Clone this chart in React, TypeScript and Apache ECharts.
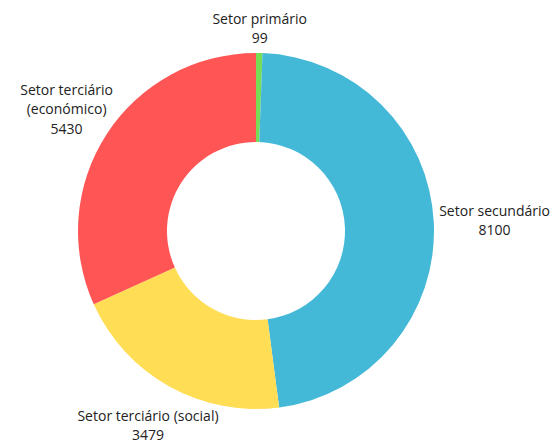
import React, { useEffect, useRef } from "react";
import * as echarts from "echarts";

const categories = [
  "Setor primário",
  "Setor secundário",
  "Setor terciário (social)",
  "Setor terciário\n(económico)",
];
const values = [99, 8100, 3479, 5430];
const colors = ["#77DD55", "#44B8D7", "#FFDD55", "#FF5555"];

const CX = 256;
const CY = 231;
const R_OUT = 178;
const R_IN = 89;
const GAP = 5.5;

export default function App() {
  const ref = useRef<HTMLDivElement>(null);
  useEffect(() => {
    if (!ref.current) return;
    const chart = echarts.init(ref.current, null, { renderer: "svg" });
    const total = values.reduce((a, b) => a + b, 0);
    const mids: number[] = [];
    let acc = 0;
    values.forEach((v) => {
      mids.push(((acc + v / 2) / total) * Math.PI * 2);
      acc += v;
    });
    chart.setOption({
      animation: false,
      series: [
        {
          type: "pie",
          center: [CX, CY],
          radius: [R_IN, R_OUT],
          startAngle: 90,
          clockwise: true,
          avoidLabelOverlap: false,
          data: categories.map((c, i) => ({
            name: c,
            value: values[i],
            itemStyle: { color: colors[i] },
          })),
          itemStyle: { borderWidth: 0 },
          emphasis: { disabled: true },
          labelLine: { show: false },
          label: {
            show: true,
            position: "outside",
            formatter: "{b}\n{c}",
            fontFamily: "Open Sans",
            fontSize: 14,
            lineHeight: 19.5,
            color: "#222222",
          },
          labelLayout: (p: any) => {
            const t = mids[p.dataIndex];
            const dx = Math.sin(t);
            const dy = -Math.cos(t);
            const w = p.labelRect.width / 2;
            const h = p.labelRect.height / 2;
            const dist = R_OUT + GAP + Math.sqrt((w * dx) ** 2 + (h * dy) ** 2);
            return {
              x: CX + dx * dist,
              y: CY + dy * dist,
              align: "center",
              verticalAlign: "middle",
            };
          },
        },
      ],
    });
    return () => chart.dispose();
  }, []);
  return (
    <div
      ref={ref}
      style={{ position: "fixed", left: 0, top: 0, width: 554, height: 441, background: "#fff" }}
    />
  );
}
